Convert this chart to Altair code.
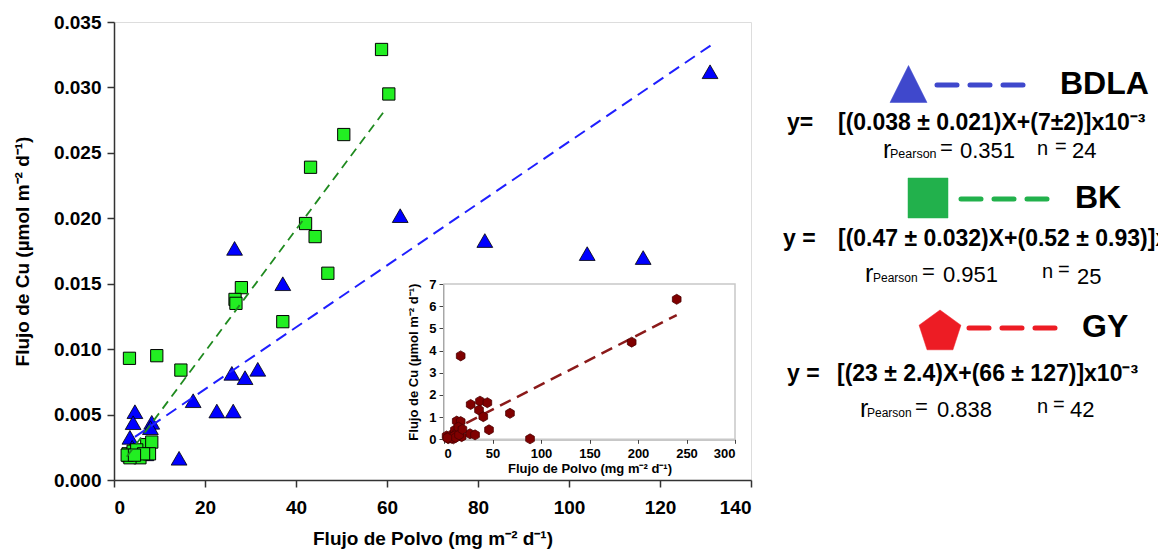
import altair as alt
import pandas as pd

FONT = "Liberation Sans"

# ---------------- data ----------------
# BDLA (blue triangles)
bdla_x = [131.0, 62.9, 81.5, 104.0, 116.3, 26.5, 37.1, 25.9, 28.8, 31.6, 17.4, 22.6,
          26.2, 14.3, 4.6, 4.2, 3.5, 8.3, 8.0, 4.0, 5.0, 3.6, 6.0, 7.0]
bdla_y = [0.0312, 0.0202, 0.0183, 0.0173, 0.0170, 0.0177, 0.0150, 0.00815, 0.00782,
          0.00846, 0.00606, 0.00527, 0.00527, 0.00166, 0.00522, 0.00438, 0.00326,
          0.00441, 0.0040, 0.0025, 0.0021, 0.0019, 0.0023, 0.0020]
# BK (green squares)
bk_x = [58.8, 60.4, 50.5, 43.2, 42.1, 44.2, 47.0, 28.0, 26.6, 26.8, 37.1, 3.4, 9.4,
        14.7, 3.1, 4.2, 5.7, 7.2, 8.3, 7.8, 3.5, 2.9, 5.0, 6.5, 4.5]
bk_y = [0.0329, 0.0295, 0.0264, 0.0239, 0.0196, 0.0186, 0.0158, 0.0147, 0.0138,
        0.0135, 0.0121, 0.0093, 0.0095, 0.0084, 0.0020, 0.0022, 0.0017, 0.0027,
        0.0029, 0.0020, 0.0017, 0.0019, 0.0023, 0.0020, 0.0019]
# regression lines (end points)
bdla_fit_x = [4.6, 131.1]
bdla_fit_y = [0.0033, 0.0332]
bk_fit_x = [2.8, 59.2]
bk_fit_y = [0.00178, 0.0281]

# GY (inset, dark red)
gy_x = [239.9, 193.5, 17.2, 37.1, 44.7, 27.5, 36.1, 40.5, 68.0, 46.4, 26.8, 32.0,
        88.7, 13.1, 17.2, 16.5, 18.2, 2.7, 6.2, 8.9, 11.3, 13.1, 4.4, 9.6, 14.8,
        5.0, 7.5, 10.5, 12.0, 15.5, 3.5, 19.0]
gy_y = [6.31, 4.38, 3.76, 1.72, 1.65, 1.57, 1.32, 1.02, 1.17, 0.43, 0.25, 0.20,
        0.02, 0.82, 0.80, 0.42, 0.12, 0.15, 0.09, 0.19, 0.42, 0.27, 0.03, 0.02,
        0.55, 0.12, 0.05, 0.15, 0.08, 0.20, 0.06, 0.45]
gy_fit_x = [5.5, 239.9]
gy_fit_y = [0.34, 5.6]

x_ticks = [0, 20, 40, 60, 80, 100, 120, 140]
y_ticks = [0.000, 0.005, 0.010, 0.015, 0.020, 0.025, 0.030, 0.035]
ix_ticks = [0, 50, 100, 150, 200, 250, 300]
iy_ticks = [0, 1, 2, 3, 4, 5, 6, 7]

x_title = "Flujo de Polvo (mg m⁻² d⁻¹)"
y_title = "Flujo de Cu (µmol m⁻² d⁻¹)"

W, H = 637, 458

# ---------------- main panel ----------------
xs = alt.Scale(domain=[0, 140], nice=False)
ys = alt.Scale(domain=[0, 0.035], nice=False)

x_axis = alt.Axis(values=x_ticks, title=x_title, format="d", grid=False,
                  labelFont=FONT, labelFontSize=19, labelFontWeight="bold", labelColor="black",
                  titleFont=FONT, titleFontSize=19, titleFontWeight="bold", titleColor="black",
                  tickSize=7, tickColor="#333", domainColor="#333", domainWidth=1.5, tickWidth=1.5,
                  labelPadding=11, titlePadding=12)
y_axis = alt.Axis(values=y_ticks, title=y_title, format=".3f", grid=False,
                  labelFont=FONT, labelFontSize=19, labelFontWeight="bold", labelColor="black",
                  titleFont=FONT, titleFontSize=19, titleFontWeight="bold", titleColor="black",
                  tickSize=7, tickColor="#333", domainColor="#333", domainWidth=1.5, tickWidth=1.5,
                  labelPadding=6, titlePadding=21)

bdla_df = pd.DataFrame({"x": bdla_x, "y": bdla_y})
bk_df = pd.DataFrame({"x": bk_x, "y": bk_y})
bdla_fit = pd.DataFrame({"x": bdla_fit_x, "y": bdla_fit_y})
bk_fit = pd.DataFrame({"x": bk_fit_x, "y": bk_fit_y})

tri = alt.Chart(bdla_df).mark_point(shape="triangle-up", filled=True, fill="#0000ff",
                                    stroke="black", strokeWidth=0.8, size=250, opacity=1).encode(
    x=alt.X("x:Q", scale=xs, axis=x_axis),
    y=alt.Y("y:Q", scale=ys, axis=y_axis))
sq = alt.Chart(bk_df).mark_point(shape="square", filled=True, fill="#22ee22",
                                 stroke="black", strokeWidth=1, size=150, opacity=1).encode(
    x=alt.X("x:Q", scale=xs), y=alt.Y("y:Q", scale=ys))
line_b = alt.Chart(bdla_fit).mark_line(color="#1f1fff", strokeWidth=2, strokeDash=[12, 7]).encode(
    x=alt.X("x:Q", scale=xs), y=alt.Y("y:Q", scale=ys))
line_g = alt.Chart(bk_fit).mark_line(color="#1f8a1f", strokeWidth=1.8, strokeDash=[9, 6]).encode(
    x=alt.X("x:Q", scale=xs), y=alt.Y("y:Q", scale=ys))

# ---------------- legend / equations (right side) ----------------
one = pd.DataFrame({"k": [0]})
def txt(s, x, y, size, weight="normal", baseline="alphabetic"):
    return alt.Chart(one).mark_text(text=s, font=FONT, fontSize=size, fontWeight=weight,
                                    align="left", baseline=baseline, color="black").encode(
        x=alt.value(x), y=alt.value(y))

def dash(x1, x2, y, color):
    return alt.Chart(one).mark_rule(color=color, strokeWidth=5, strokeDash=[20, 13],
                                    strokeCap="round").encode(
        x=alt.value(x1), x2=alt.value(x2), y=alt.value(y))

def sym(shape, x, y, size, color):
    return alt.Chart(one).mark_point(shape=shape, filled=True, fill=color, stroke=color,
                                     strokeWidth=0.5, size=size, opacity=1).encode(
        x=alt.value(x), y=alt.value(y))

legend = [
    sym("M0,-1L1,1L-1,1Z", 794.5, 62, 1369, "#3f48cc"),
    dash(823, 921, 63, "#3f48cc"),
    txt("BDLA", 946, 62, 32, "bold", "middle"),
    txt("y=", 673, 108, 23, "bold"),
    txt("[(0.038 ± 0.021)X+(7±2)]x10⁻³", 724, 108, 23, "bold"),
    txt("r", 769, 136, 25), txt("Pearson", 776, 136, 12.5), txt("=", 826, 133, 22),
    txt("0.351", 846, 136, 22), txt("n", 923, 133, 20), txt("=", 941, 131, 20),
    txt("24", 958, 136, 22),

    sym("square", 814, 176, 1600, "#22b14c"),
    dash(847, 941, 177, "#22b14c"),
    txt("BK", 961, 176, 32, "bold", "middle"),
    txt("y =", 669, 224, 23, "bold"),
    txt("[(0.47 ± 0.032)X+(0.52 ± 0.93)]x", 724, 224, 23, "bold"),
    txt("r", 751, 260, 25), txt("Pearson", 759, 260, 12), txt("=", 808, 257, 22),
    txt("0.951", 829, 260, 22), txt("n", 928, 256, 20), txt("=", 944, 254, 20),
    txt("25", 963, 262, 22),

    sym("M0,-1L0.951,-0.309L0.588,0.809L-0.588,0.809L-0.951,-0.309Z", 826, 310, 1936, "#ed1c24"),
    dash(855, 950, 306, "#ed1c24"),
    txt("GY", 968, 305, 32, "bold", "middle"),
    txt("y =", 673, 359, 23, "bold"),
    txt("[(23 ± 2.4)X+(66 ± 127)]x10⁻³", 723, 359, 23, "bold"),
    txt("r", 746, 395, 25), txt("Pearson", 753, 395, 12), txt("=", 801, 392, 22),
    txt("0.838", 823, 395, 22), txt("n", 923, 391, 20), txt("=", 939, 389, 20),
    txt("42", 956, 395, 22),
]

main = alt.layer(tri, sq, line_b, line_g, *legend)

# ---------------- inset ----------------
ixs = alt.Scale(domain=[0, 300], range=[330, 621], nice=False)
iys = alt.Scale(domain=[0, 7], range=[417.3, 262], nice=False)

ix_axis = alt.Axis(values=ix_ticks, title=x_title, orient="bottom", offset=-40.7, grid=False,
                   format="d",
                   labelFont=FONT, labelFontSize=13, labelFontWeight="bold", labelColor="black",
                   titleFont=FONT, titleFontSize=13, titleFontWeight="bold", titleColor="black",
                   tickSize=4, tickColor="#444", domainColor="#444", domainWidth=1,
                   labelPadding=4, titlePadding=2)
iy_axis = alt.Axis(values=iy_ticks, title=y_title, orient="left", offset=-329, grid=False,
                   format="d",
                   labelFont=FONT, labelFontSize=13, labelFontWeight="bold", labelColor="black",
                   titleFont=FONT, titleFontSize=13, titleFontWeight="bold", titleColor="black",
                   tickSize=4, tickColor="#444", domainColor="#444", domainWidth=1,
                   labelPadding=3, titlePadding=8)

frame_df = pd.DataFrame({"x": [0], "x2": [300], "y": [0], "y2": [7]})
gy_df = pd.DataFrame({"x": gy_x, "y": gy_y})
gy_fit = pd.DataFrame({"x": gy_fit_x, "y": gy_fit_y})

frame = alt.Chart(frame_df).mark_rect(fill="white", stroke="#c8c8c8", strokeWidth=1.5).encode(
    x=alt.X("x:Q", scale=ixs, axis=ix_axis), x2="x2:Q",
    y=alt.Y("y:Q", scale=iys, axis=iy_axis), y2="y2:Q")
hexa = "M0,-1L0.866,-0.5L0.866,0.5L0,1L-0.866,0.5L-0.866,-0.5Z"
gy_pts = alt.Chart(gy_df).mark_point(shape=hexa, filled=True, fill="#800000", stroke="#4a0000",
                                     strokeWidth=0.8, size=100, opacity=1).encode(
    x=alt.X("x:Q", scale=ixs), y=alt.Y("y:Q", scale=iys))
gy_line = alt.Chart(gy_fit).mark_line(color="#8b1a1a", strokeWidth=2.5, strokeDash=[12, 7]).encode(
    x=alt.X("x:Q", scale=ixs), y=alt.Y("y:Q", scale=iys))

inset = alt.layer(frame, gy_line, gy_pts)

chart = alt.layer(main, inset).resolve_scale(x="independent", y="independent").properties(
    width=W, height=H,
    autosize=alt.AutoSizeParams(type="none"),
    padding={"left": 106, "top": 14, "right": 407, "bottom": 70},
).configure_view(stroke="#666", strokeWidth=1.5).configure(background="white")

chart.save("out.html", embed_options={"renderer": "svg", "actions": False})
